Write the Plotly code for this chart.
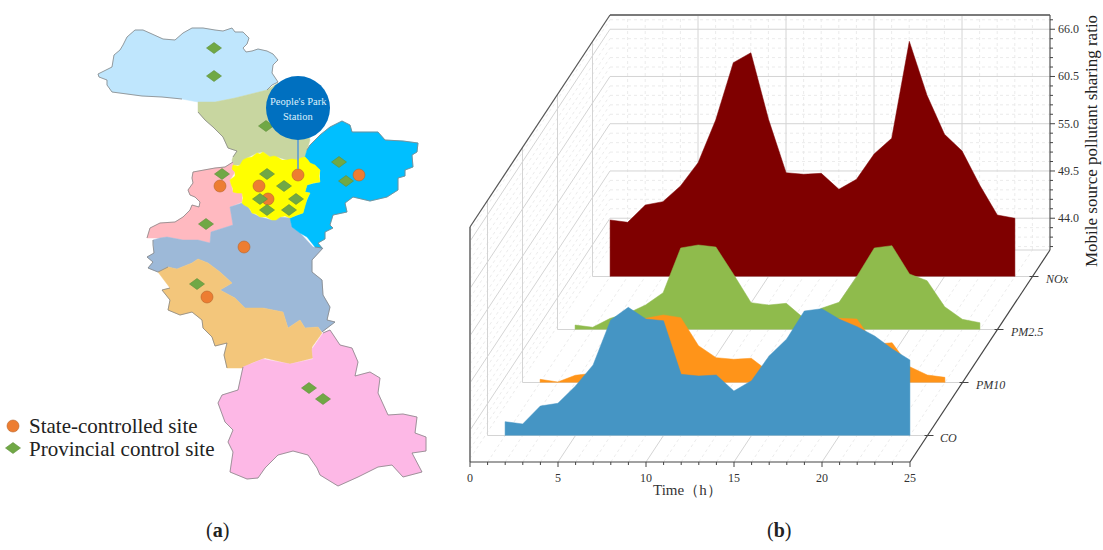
import plotly.graph_objects as go

# ---------- chart data (b) ----------
hours = list(range(1, 25))
nox = [46.88, 46.61, 48.62, 49.01, 50.84, 53.55, 58.52, 65.19, 66.35, 58.6, 52.38, 52.2,
       52.31, 50.45, 51.62, 54.56, 56.39, 67.68, 61.43, 56.85, 54.91, 50.95, 47.46, 47.08]
pm25 = [40.82, 40.56, 41.6, 42.19, 43.15, 44.58, 49.79, 50.14, 49.9, 46.73, 43.42, 43.15,
        43.35, 41.6, 42.77, 43.47, 46.45, 49.79, 50.06, 46.76, 45.98, 42.95, 41.49, 41.09]
pm10 = [40.67, 40.36, 41.14, 41.37, 42.92, 45.63, 47.77, 48.16, 47.84, 44.58, 43.19, 43.0,
        43.12, 41.56, 43.3, 46.21, 47.77, 47.77, 47.69, 44.75, 44.93, 42.14, 41.17, 40.9]
co = [41.91, 41.64, 43.73, 44.05, 46.06, 48.51, 53.75, 55.22, 53.86, 53.66, 47.42, 47.23,
      47.34, 45.48, 46.68, 49.55, 51.53, 54.79, 55.06, 53.83, 52.97, 51.88, 50.37, 49.09]
series_names = ["CO", "PM10", "PM2.5", "NOx"]
series_depths = [0.125, 0.375, 0.625, 0.875]
series_colors = {"NOx": "#7f0000", "PM2.5": "#8fbb4c", "PM10": "#ff9419", "CO": "#4595c4"}
z_ticks = [44.0, 49.5, 55.0, 60.5, 66.0]
t_ticks = [0, 5, 10, 15, 20, 25]
Z_MIN, Z_MAX = 40.3, 67.66

# ---------- map data (a) ----------
r_lightblue = [(98,74),(107,70),(112,67),(114,55),(120,50),(123,45),(127,37),(135,30),(143,30),(152,34),(163,39),(175,40),(183,33),(192,28),(203,28),(215,30),(223,31),(232,28),(235,32),(243,32),(249,38),(247,44),(243,48),(246,52),(252,51),(258,49),(267,51),(273,54),(278,60),(273,65),(272,73),(278,82),(272,85),(267,90),(255,93),(235,98),(215,102),(198,102),(182,99),(162,97),(142,96),(123,93),(112,92),(107,85),(107,80),(99,77)]
r_olive = [(198,102),(215,102),(235,98),(255,93),(267,90),(278,83),(300,110),(310,140),(308,148),(305,157),(297,160),(287,160),(277,157),(270,157),(263,152),(257,153),(247,158),(240,165),(233,165),(232,160),(233,157),(237,151),(228,148),(223,137),(213,127),(205,120),(198,112)]
r_cyan = [(307,150),(310,145),(320,135),(330,127),(342,121),(350,125),(352,132),(367,132),(378,132),(385,140),(403,141),(418,143),(417,152),(412,155),(413,167),(405,170),(405,176),(398,178),(398,190),(387,197),(370,201),(353,197),(345,203),(347,212),(333,215),(330,225),(333,228),(325,232),(325,239),(318,243),(322,248),(315,247),(307,237),(300,233),(292,227),(290,218),(303,213),(305,205),(310,193),(305,192),(307,185),(320,182),(320,170),(310,163),(305,157)]
r_yellow = [(230,180),(235,176),(235,172),(232,169),(233,165),(238,166),(240,165),(243,160),(247,158),(252,157),(257,153),(260,154),(263,152),(267,155),(270,157),(274,156),(277,157),(282,160),(287,160),(292,159),(297,160),(301,158),(305,157),(308,160),(310,163),(315,165),(320,170),(319,176),(320,182),(313,183),(307,185),(305,192),(310,193),(307,199),(305,205),(304,209),(303,213),(297,215),(290,218),(285,216),(280,217),(276,220),(272,220),(266,217),(260,217),(256,214),(252,213),(250,209),(248,207),(244,205),(242,203),(243,198),(242,193),(237,193),(233,192),(233,189),(232,187),(231,184)]
r_rose = [(233,162),(225,167),(215,168),(203,170),(193,172),(192,178),(193,183),(188,190),(190,195),(195,197),(200,202),(199,207),(192,205),(190,210),(183,217),(175,222),(160,223),(150,228),(147,238),(160,238),(167,237),(183,240),(198,240),(210,243),(211,232),(233,225),(231,213),(230,207),(242,202),(242,193),(233,192),(230,180),(235,172),(233,165)]
r_steel = [(230,207),(242,203),(248,207),(252,213),(260,217),(272,220),(280,217),(290,218),(292,227),(300,233),(313,247),(323,248),(312,260),(312,272),(322,280),(323,295),(330,307),(327,320),(335,322),(322,332),(318,327),(305,328),(300,320),(288,328),(283,312),(263,308),(245,308),(235,298),(220,290),(232,283),(220,272),(208,263),(198,259),(192,263),(177,269),(168,267),(158,272),(148,268),(153,262),(147,257),(154,253),(153,245),(153,240),(160,238),(167,237),(183,240),(198,240),(210,243),(211,232),(233,225),(231,213)]
r_sand = [(158,272),(168,267),(177,269),(192,263),(198,259),(208,263),(220,272),(232,283),(220,290),(235,298),(245,308),(263,308),(283,312),(288,328),(300,320),(305,328),(318,327),(322,333),(312,347),(313,358),(290,364),(265,358),(252,363),(243,368),(227,368),(224,355),(227,343),(215,346),(212,337),(203,328),(202,320),(192,312),(180,315),(168,310),(170,300),(162,290),(170,288)]
r_pink = [(323,333),(330,330),(340,345),(352,348),(358,362),(355,376),(370,372),(380,378),(378,393),(388,415),(403,414),(417,417),(415,433),(426,437),(426,451),(412,453),(422,472),(403,477),(392,465),(378,467),(358,477),(338,486),(320,475),(317,468),(308,455),(293,451),(278,455),(265,468),(258,478),(247,479),(230,472),(233,452),(228,442),(233,430),(225,422),(218,403),(222,395),(238,390),(243,367),(263,359),(290,364),(313,359),(312,349)]
regions = [(r_lightblue, "#bfe6fd"), (r_olive, "#c8d6a0"), (r_rose, "#ffb9c0"), (r_steel, "#9db9d8"),
           (r_sand, "#f3c67b"), (r_pink, "#fdb8e6"), (r_cyan, "#00bfff"), (r_yellow, "#ffff00")]
# stretches of the regions that lie on the outer border
border_parts = [r_lightblue[:34], r_lightblue[38:] + r_lightblue[:1], r_pink[:39], r_sand[24:37], r_steel[35:43],
                r_steel[11:20], r_cyan[:32], r_olive[20:27], r_rose[:19]]

state_sites = [(220,186),(259,186),(268,199),(298,175),(359,175),(244,247),(207,297)]
provincial_sites = [(214,48),(214,76),(266,126),(222,174),(267,174),(284,186),(260,199),(296,199),
                    (267,210),(289,210),(339,162),(346,181),(206,224),(197,284),(309,388),(323,399)]
callout_site = (298,175)
callout_center = (298,108)

FONT = "Liberation Serif"
GRID = "#d4d4d4"
MINOR = "#e6e6e6"


def project(t, d, z):
    """Oblique projection of (hour, depth 0..1, value) on the figure plane."""
    return (470 + t * 17.6 + d * 140, 462 - d * 212 - (z - Z_MIN) * 8.59)


def segs(pairs):
    xs, ys = [], []
    for a, b in pairs:
        p, q = project(*a), project(*b)
        xs += [p[0], q[0], None]
        ys += [p[1], q[1], None]
    return xs, ys


fig = go.Figure()


def add_lines(pairs, color, width, dash=None):
    x, y = segs(pairs)
    fig.add_trace(go.Scatter(x=x, y=y, mode="lines", hoverinfo="skip", showlegend=False,
                             line=dict(color=color, width=width, dash=dash)))


def add_diamonds(sites):
    """Flat diamonds (wider than the library's own symbols allow) centred on each site."""
    xs, ys = [], []
    for cx, cy in sites:
        xs += [cx - 7.5, cx, cx + 7.5, cx, cx - 7.5, None]
        ys += [cy, cy - 5.5, cy, cy + 5.5, cy, None]
    fig.add_trace(go.Scatter(x=xs, y=ys, mode="lines", fill="toself", fillcolor="#70a845", showlegend=False,
                             hoverinfo="skip", line=dict(color="#5f8f3c", width=0.6)))


# --- map ---
for pts, col in regions:
    fig.add_trace(go.Scatter(x=[p[0] for p in pts] + [pts[0][0]], y=[p[1] for p in pts] + [pts[0][1]],
                             mode="lines", fill="toself", fillcolor=col, hoverinfo="skip", showlegend=False,
                             line=dict(color=col, width=0.5)))
for part in border_parts:
    fig.add_trace(go.Scatter(x=[p[0] for p in part], y=[p[1] for p in part], mode="lines", hoverinfo="skip",
                             showlegend=False, line=dict(color="#858585", width=0.8)))

CIRCLE = dict(symbol="circle", size=12, color="#ed7d31", line=dict(color="#b8642c", width=0.6))
add_diamonds(provincial_sites[:3])
fig.add_trace(go.Scatter(x=[p[0] for p in state_sites], y=[p[1] for p in state_sites], mode="markers",
                         showlegend=False, marker=CIRCLE))
add_diamonds(provincial_sites[3:])
fig.add_trace(go.Scatter(x=[callout_center[0], callout_site[0]], y=[callout_center[1] + 30, callout_site[1] - 6],
                         mode="lines", showlegend=False, hoverinfo="skip", line=dict(color="#5b9bd5", width=1.6)))
fig.add_trace(go.Scatter(x=[callout_center[0]], y=[callout_center[1]], mode="markers", showlegend=False,
                         marker=dict(symbol="circle", size=64, color="#0070c0")))
fig.add_trace(go.Scatter(x=[13], y=[426], mode="markers", showlegend=False, marker=CIRCLE))
add_diamonds([(13, 448)])

# --- walls: minor grid ---
zv = 44.0 - 1.1 * 3
zs = []
while zv <= Z_MAX:
    zs.append(round(zv, 2))
    zv += 1.1
minor_zs = [z for z in zs if z not in z_ticks]
minor_pairs = []
for z in minor_zs:
    minor_pairs.append(((0, 1, z), (25, 1, z)))
    minor_pairs.append(((0, 0, z), (0, 1, z)))
for t in range(1, 25):
    if t not in t_ticks:
        minor_pairs.append(((t, 1, Z_MIN), (t, 1, Z_MAX)))
        minor_pairs.append(((t, 0, Z_MIN), (t, 1, Z_MIN)))
add_lines(minor_pairs, MINOR, 0.8, "dot")

# --- major grid ---
major_pairs = []
for z in z_ticks:
    major_pairs.append(((0, 1, z), (25, 1, z)))
    major_pairs.append(((0, 0, z), (0, 1, z)))
for t in t_ticks[1:-1]:
    major_pairs.append(((t, 1, Z_MIN), (t, 1, Z_MAX)))
    major_pairs.append(((t, 0, Z_MIN), (t, 1, Z_MIN)))
for d in series_depths:
    major_pairs.append(((0, d, Z_MIN), (25, d, Z_MIN)))
    major_pairs.append(((0, d, Z_MIN), (0, d, Z_MAX)))
major_pairs.append(((0, 1, Z_MIN), (25, 1, Z_MIN)))
add_lines(major_pairs, GRID, 1)

# --- filled series, back to front ---
values = {"NOx": nox, "PM2.5": pm25, "PM10": pm10, "CO": co}
for name, d in reversed(list(zip(series_names, series_depths))):
    vals = values[name]
    pts = [project(t, d, v) for t, v in zip(hours, vals)]
    pts = [project(hours[0], d, Z_MIN)] + pts + [project(hours[-1], d, Z_MIN)]
    fig.add_trace(go.Scatter(x=[p[0] for p in pts], y=[p[1] for p in pts], mode="lines", fill="toself",
                             fillcolor=series_colors[name], name=name, showlegend=False,
                             line=dict(color=series_colors[name], width=0.5)))

# --- axes frame ---
add_lines([((0, 1, Z_MAX), (25, 1, Z_MAX))], "#7a7a7a", 2)
add_lines([((0, 0, Z_MIN), (0, 0, Z_MAX))], "#8a8a8a", 2)
add_lines([((0, 0, Z_MAX), (0, 1, Z_MAX))], "#555555", 1.2)
add_lines([((25, 1, Z_MIN), (25, 1, Z_MAX))], "#555555", 1.2)
add_lines([((0, 0, Z_MIN), (25, 0, Z_MIN))], "#444444", 1.2)
add_lines([((25, 0, Z_MIN), (25, 1, Z_MIN))], "#444444", 1.2)

# ticks, built on the projected scale
tx, ty = [], []
for t in range(0, 26):
    p = project(t, 0, Z_MIN)
    tx += [p[0], p[0], None]
    ty += [p[1], p[1] + (5 if t % 5 == 0 else 3), None]
for d in series_depths:
    p = project(25, d, Z_MIN)
    tx += [p[0] - 3, p[0] + 6, None]
    ty += [p[1], p[1], None]
for z in zs:
    p = project(25, 1, z)
    tx += [p[0], p[0] + (5 if z in z_ticks else 3), None]
    ty += [p[1], p[1], None]
fig.add_trace(go.Scatter(x=tx, y=ty, mode="lines", hoverinfo="skip", showlegend=False,
                         line=dict(color="#444444", width=1)))

ann = []


def text(x, y, s, size, color="#222222", **kw):
    ann.append(dict(x=x, y=y, xref="x", yref="y", text=s, showarrow=False,
                    font=dict(family=kw.pop("family", FONT), size=size, color=color), **kw))


for t in t_ticks:
    p = project(t, 0, Z_MIN)
    text(p[0], p[1] + 16, str(t), 12, color="#333333")
for z in z_ticks:
    p = project(25, 1, z)
    text(p[0] + 6, p[1], f"{z:.1f}", 12, color="#333333", xanchor="left")
for name, d in zip(series_names, series_depths):
    p = project(25, d, Z_MIN)
    text(p[0] + 10, p[1] + 2, f"<i>{name}</i>", 12, color="#333333", xanchor="left")
text(687, 490, "Time（h）", 15, color="#333333")
text(1091, 141, "Mobile source pollutant sharing ratio", 17, textangle=-90)
text(217, 530, "(<b>a</b>)", 20)
text(779, 530, "(<b>b</b>)", 20)
text(27, 426, "State-controlled site", 21, xanchor="left")
text(27, 449, "Provincial control site", 21, xanchor="left")
text(callout_center[0], 101.7, "People's Park", 10.5, color="#dff0fb")
text(callout_center[0], 116.7, "Station", 10.5, color="#dff0fb")

fig.update_layout(
    width=1103, height=550, margin=dict(l=0, r=0, t=0, b=0),
    paper_bgcolor="white", plot_bgcolor="white", showlegend=False, annotations=ann,
    xaxis=dict(range=[0, 1103], visible=False, fixedrange=True),
    yaxis=dict(range=[550, 0], visible=False, fixedrange=True),
)
fig.write_html("out.html", config={"displayModeBar": False},
               post_script="document.body.style.margin='0';")
